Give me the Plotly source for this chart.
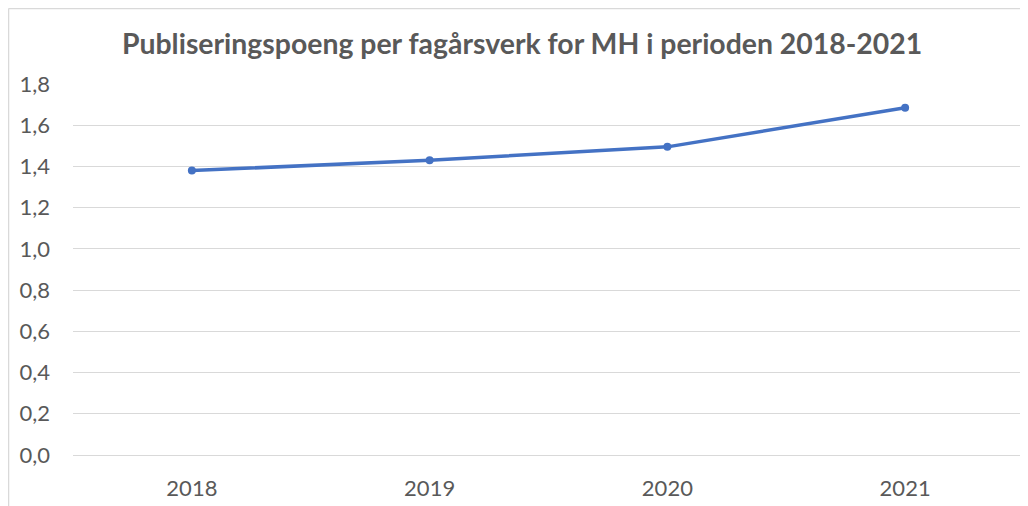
import plotly.graph_objects as go

years = ["2018", "2019", "2020", "2021"]
poeng = [1.38, 1.43, 1.495, 1.685]
y_ticks = [0.0, 0.2, 0.4, 0.6, 0.8, 1.0, 1.2, 1.4, 1.6, 1.8]
y_labels = ["0,0", "0,2", "0,4", "0,6", "0,8", "1,0", "1,2", "1,4", "1,6", "1,8"]

FONT = "Lato, Open Sans, sans-serif"

fig = go.Figure()
fig.add_trace(go.Scatter(
    x=years, y=poeng, mode="lines+markers",
    line=dict(color="#4472C4", width=3.5),
    marker=dict(color="#4472C4", size=8),
    showlegend=False,
))

# page has an 8px body margin, so the figure is sized to fit the window
fig.update_layout(
    width=1020, height=498,
    margin=dict(l=65, r=4, t=76, b=51),
    paper_bgcolor="white", plot_bgcolor="white",
    title=dict(
        text="<b>Publiseringspoeng per fagårsverk for MH i perioden 2018-2021</b>",
        x=0.504, xanchor="center", y=0.928, yanchor="middle",
        font=dict(family=FONT, size=28.4, color="#595959"),
    ),
    xaxis=dict(
        type="category", range=[-0.5, 3.5],
        showgrid=False, zeroline=False, showline=False,
        ticks="", ticklabelstandoff=18,
        tickfont=dict(family=FONT, size=22, color="#595959"),
    ),
    yaxis=dict(
        range=[0, 1.8], tickvals=y_ticks, ticktext=y_labels,
        showgrid=True, gridcolor="#D9D9D9", gridwidth=1,
        zeroline=True, zerolinecolor="#D9D9D9", zerolinewidth=1,
        showline=False, ticks="", ticklabelstandoff=22,
        tickfont=dict(family=FONT, size=22, color="#595959"),
    ),
)

# light frame on the left and top, like the screenshot
fig.add_shape(type="line", xref="paper", yref="paper",
              x0=-0.0678, x1=-0.0678, y0=-0.2, y1=1.2035,
              line=dict(color="#D9D9D9", width=1.5))
fig.add_shape(type="line", xref="paper", yref="paper",
              x0=-0.0678, x1=1.01, y0=1.2035, y1=1.2035,
              line=dict(color="#D9D9D9", width=1.5))

fig.write_html("out.html")
